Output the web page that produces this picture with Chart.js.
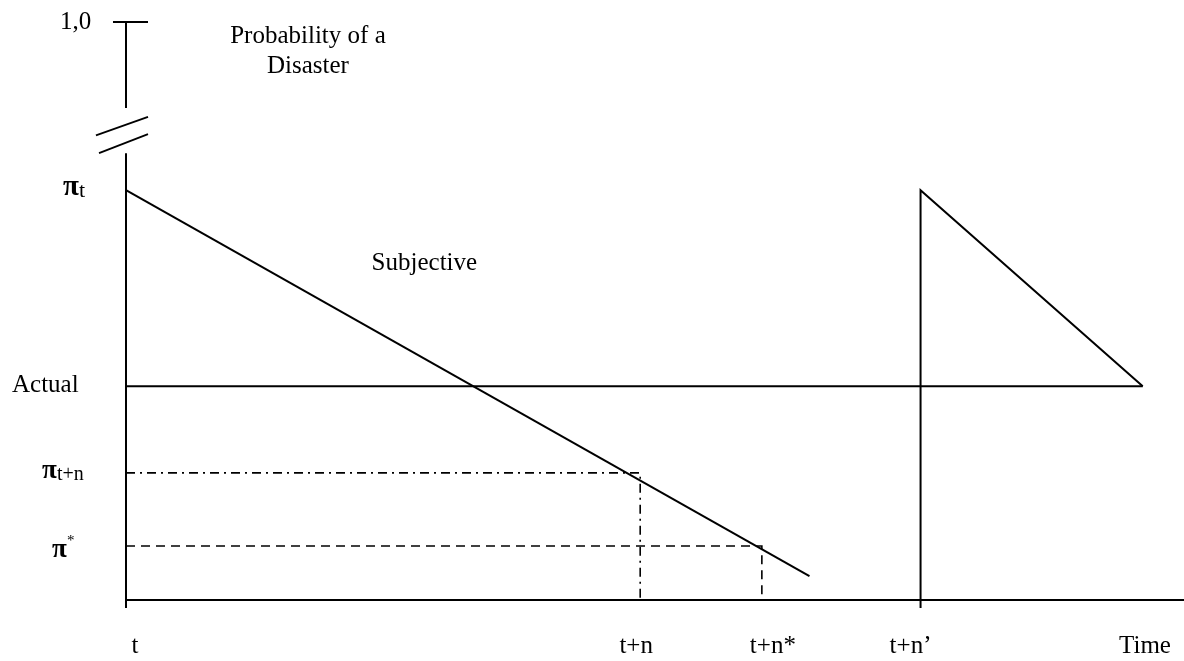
<!DOCTYPE html>
<html>
<head>
<meta charset="utf-8">
<script src="https://cdn.jsdelivr.net/npm/chart.js@4.4.1/dist/chart.umd.min.js"></script>
<style>
  html, body { margin: 0; padding: 0; background: #fff; }
  canvas { display: block; }
</style>
</head>
<body>
<canvas id="chart" width="1184" height="661"></canvas>
<script>
// time axis (arbitrary units, t = 0) and probability axis (1,0 at top, broken)
const xTicks = [0, 48.6, 60.1, 75.1];
const xTickLabels = ["t", "t+n", "t+n*", "t+n\u2019"];
const yTicks = [1.0, 0.709, 0.370, 0.220, 0.0934];

// series
const subjectiveX = [0, 64.6];
const subjectiveY = [0.709, 0.0415];
const actualX = [0, 96.1];
const actualY = [0.370, 0.370];
const resetX = [75.1, 75.1, 96.1];
const resetY = [-0.014, 0.709, 0.370];
const piTnX = [0, 48.6, 48.6];
const piTnY = [0.220, 0.220, 0];
const piStarX = [0, 60.1, 60.1];
const piStarY = [0.0934, 0.0934, 0];

// axes (with the break on the probability axis)
const xAxisX = [0, 100];
const xAxisY = [0, 0];
const yAxisLowX = [0, 0];
const yAxisLowY = [-0.014, 0.773];
const yAxisHighX = [0, 0];
const yAxisHighY = [0.851, 1.0];
const topTickX = [-1.23, 2.08];
const topTickY = [1.0, 1.0];
const breakAX = [-2.84, 2.08];
const breakAY = [0.804, 0.836];
const breakBX = [-2.55, 2.08];
const breakBY = [0.773, 0.806];

function pts(xs, ys) {
  return xs.map((x, i) => ({ x: x, y: ys[i] }));
}

function line(xs, ys, opts) {
  return Object.assign({
    data: pts(xs, ys),
    showLine: true,
    borderColor: "#000",
    borderWidth: 2,
    pointRadius: 0,
    fill: false,
    clip: false,
    tension: 0,
  }, opts || {});
}

const SERIF = "'Liberation Serif', 'Times New Roman', serif";

// all the text of the figure, placed through the scales
const labelsPlugin = {
  id: "labels",
  afterDatasetsDraw(chart) {
    const ctx = chart.ctx;
    const xs = chart.scales.x;
    const ys = chart.scales.y;
    ctx.save();
    ctx.fillStyle = "#000";
    ctx.textBaseline = "alphabetic";

    function txt(s, px, py, size, align, weight) {
      ctx.font = (weight || "normal") + " " + size + "px " + SERIF;
      ctx.textAlign = align || "left";
      ctx.fillText(s, px, py);
    }

    // x labels
    const xOff = [9, -4, 11, -10];
    xTicks.forEach((v, i) => {
      txt(xTickLabels[i], xs.getPixelForValue(v) + xOff[i], 653, 25, "center");
    });
    txt("Time", 1145, 653, 25, "center");

    // y labels
    const y10 = ys.getPixelForValue(yTicks[0]);
    txt("1,0", 60, y10 + 7, 25);

    const yPt = ys.getPixelForValue(yTicks[1]);
    txt("\u03c0", 63, yPt + 5, 29, "left", "bold");
    txt("t", 79, yPt + 7, 22);

    const yAct = ys.getPixelForValue(yTicks[2]);
    txt("Actual", 12, yAct + 6, 25);

    const yPn = ys.getPixelForValue(yTicks[3]);
    txt("\u03c0", 42, yPn + 5, 27, "left", "bold");
    txt("t+n", 57, yPn + 7, 20);

    const yPs = ys.getPixelForValue(yTicks[4]);
    txt("\u03c0", 52, yPs + 11, 27, "left", "bold");
    txt("*", 67, yPs - 1, 15);

    // titles
    const cx = xs.getPixelForValue(17.2);
    txt("Probability of a", cx, ys.getPixelForValue(0.964), 25, "center");
    txt("Disaster", cx, ys.getPixelForValue(0.912), 25, "center");
    txt("Subjective", xs.getPixelForValue(28.2), ys.getPixelForValue(0.571), 25, "center");

    ctx.restore();
  },
};

new Chart(document.getElementById("chart"), {
  type: "scatter",
  data: {
    datasets: [
      line(xAxisX, xAxisY),
      line(yAxisLowX, yAxisLowY),
      line(yAxisHighX, yAxisHighY),
      line(topTickX, topTickY),
      line(breakAX, breakAY, { borderWidth: 1.8 }),
      line(breakBX, breakBY, { borderWidth: 1.8 }),
      line(subjectiveX, subjectiveY),
      line(actualX, actualY),
      line(resetX, resetY),
      line(piTnX, piTnY, { borderWidth: 1.6, borderDash: [9, 5, 2, 5] }),
      line(piStarX, piStarY, { borderWidth: 1.6, borderDash: [9, 6] }),
    ],
  },
  options: {
    responsive: false,
    devicePixelRatio: 1,
    animation: false,
    layout: { padding: { left: 126, right: 0, top: 22, bottom: 61 } },
    plugins: { legend: { display: false }, tooltip: { enabled: false } },
    scales: {
      x: { type: "linear", min: 0, max: 100, display: false },
      y: { type: "linear", min: 0, max: 1, display: false },
    },
  },
  plugins: [labelsPlugin],
});
</script>
</body>
</html>
